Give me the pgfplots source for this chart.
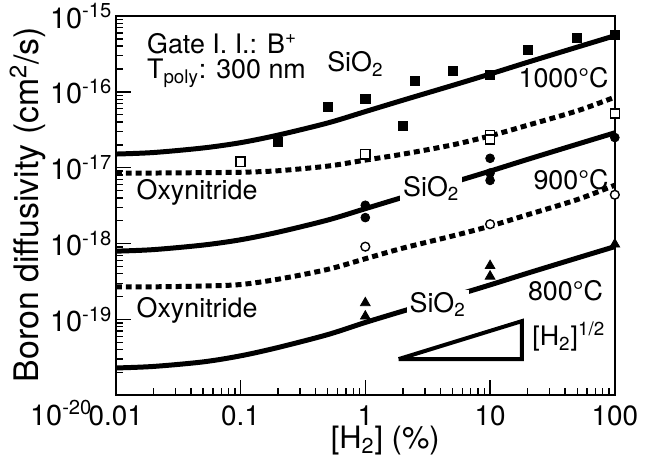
\documentclass[border=0pt]{standalone}
\usepackage{fontspec}
\setmainfont{TeX Gyre Heros}
\usepackage{pgfplots}
\pgfplotsset{compat=1.18}
\begin{document}
\fontsize{13.5}{16}\selectfont
\begin{tikzpicture}
\begin{axis}[name=ax,
  xmode=log, ymode=log, scale only axis, width=250bp, height=190bp,
  xmin=0.01, xmax=100, ymin=1e-20, ymax=1e-15,
  clip=false,
  axis line style={line width=1bp},
  tick pos=left, tick align=inside,
  major tick length=7.5bp, minor tick length=3.5bp,
  every tick/.style={line width=0.7bp, black},
  xtick={0.01,0.1,1,10,100}, xticklabels={0.01,0.1,1,10,100},
  ytick={1e-20,1e-19,1e-18,1e-17,1e-16,1e-15},
  yticklabels={,10\textsuperscript{-19},10\textsuperscript{-18},10\textsuperscript{-17},10\textsuperscript{-16},10\textsuperscript{-15}},
  xticklabel style={anchor=base, yshift=-15bp, font=\fontsize{14}{16}\selectfont},
  yticklabel style={inner sep=0pt, xshift=-1.5bp, font=\fontsize{14.5}{16}\selectfont},
  xlabel={[H\textsubscript{2}] (\%)},
  ylabel={Boron diffusivity (cm\textsuperscript{2}/s)},
  xlabel style={at={(axis description cs:0.54,0)}, anchor=base, yshift=-26.5bp, font=\fontsize{15.5}{17}\selectfont},
  ylabel style={at={(axis description cs:-0.176,0.503)}, anchor=center, font=\fontsize{17}{19}\selectfont},
]
% 1000 C SiO2 fit
\addplot[line width=2.5bp, smooth] coordinates {(0.01,1.514e-17) (0.02,1.585e-17) (0.05,1.820e-17) (0.1,2.138e-17) (0.2,2.692e-17) (0.5,3.890e-17) (1,5.495e-17) (2,7.762e-17) (5,1.216e-16) (10,1.718e-16) (20,2.455e-16) (50,3.890e-16) (100,5.495e-16)};
% 1000 C oxynitride fit
\addplot[line width=2.5bp, dash pattern=on 3bp off 2bp, smooth] coordinates {(0.01,8.51e-18) (0.02,8.51e-18) (0.05,8.61e-18) (0.1,8.71e-18) (0.2,9.12e-18) (0.5,1.05e-17) (1,1.26e-17) (2,1.51e-17) (5,2.00e-17) (10,2.63e-17) (20,3.63e-17) (50,5.62e-17) (100,8.51e-17)};
% 900 C SiO2 fit
\addplot[line width=2.5bp, smooth] coordinates {(0.01,7.94e-19) (0.02,8.32e-19) (0.05,9.55e-19) (0.1,1.122e-18) (0.2,1.413e-18) (0.5,2.042e-18) (1,2.884e-18) (2,4.074e-18) (5,6.383e-18) (10,9.016e-18) (20,1.288e-17) (50,2.042e-17) (100,2.884e-17)};
% 900 C oxynitride fit
\addplot[line width=2.5bp, dash pattern=on 3bp off 2bp, smooth] coordinates {(0.01,2.692e-19) (0.02,2.692e-19) (0.05,2.754e-19) (0.1,2.884e-19) (0.2,3.388e-19) (0.5,4.571e-19) (1,6.310e-19) (2,8.710e-19) (5,1.259e-18) (10,1.698e-18) (20,2.399e-18) (50,3.802e-18) (100,5.888e-18)};
% 800 C SiO2 fit
\addplot[line width=2.5bp, smooth] coordinates {(0.01,2.291e-20) (0.02,2.399e-20) (0.05,2.754e-20) (0.1,3.311e-20) (0.2,4.266e-20) (0.5,6.310e-20) (1,9.12e-20) (2,1.288e-19) (5,2.018e-19) (10,2.851e-19) (20,4.074e-19) (50,6.457e-19) (100,9.12e-19)};
% data
\addplot[only marks, mark=square*, mark size=2.3bp, black] coordinates {(0.2,2.2e-17) (0.5,6.3e-17) (1,8.0e-17) (2,3.6e-17) (2.5,1.4e-16) (5,1.9e-16) (10,1.67e-16) (20,3.6e-16) (50,5.2e-16) (100,5.6e-16)};
\addplot[only marks, mark=square*, mark size=2.3bp, mark options={fill=white, draw=black, line width=0.7bp}] coordinates {(0.1,1.2e-17) (1,1.5e-17) (10,2.7e-17) (10,2.35e-17) (100,5.2e-17)};
\addplot[only marks, mark=*, mark size=2.2bp, black] coordinates {(1,3.2e-18) (1,2.2e-18) (10,1.33e-17) (10,8.5e-18) (10,6.8e-18) (100,2.5e-17)};
\addplot[only marks, mark=*, mark size=2.2bp, mark options={fill=white, draw=black, line width=0.7bp}] coordinates {(1,9.1e-19) (10,1.8e-18) (100,4.4e-18)};
\addplot[only marks, mark=triangle*, mark size=2.8bp, black] coordinates {(1,1.65e-19) (1,1.1e-19) (10,5.1e-19) (10,3.7e-19) (100,9.8e-19)};
% slope triangle
\addplot[line width=2bp, line join=miter] coordinates {(1.85,3.0e-20) (18,3.0e-20) (18,9.5e-20) (1.85,3.0e-20)};
% annotations
\node[anchor=base west, inner sep=0pt] at (rel axis cs:0.062,0.90) {Gate I. I.: B\textsuperscript{+}};
\node[anchor=base west, inner sep=0pt] at (rel axis cs:0.062,0.834) {T\textsubscript{poly}: 300 nm};
\node[anchor=base west, inner sep=0pt] at (rel axis cs:0.423,0.853) {SiO\textsubscript{2}};
\node[anchor=base east, inner sep=0pt] at (rel axis cs:0.988,0.812) {1000\textdegree C};
\node[anchor=base west, inner sep=0pt] at (rel axis cs:0.041,0.516) {Oxynitride};
\node[anchor=base west, inner sep=1.5bp, fill=white] at (rel axis cs:0.569,0.524) {SiO\textsubscript{2}};
\node[anchor=base east, inner sep=0pt] at (rel axis cs:0.988,0.542) {900\textdegree C};
\node[anchor=base west, inner sep=0pt] at (rel axis cs:0.041,0.206) {Oxynitride};
\node[anchor=base west, inner sep=1.5bp, fill=white] at (rel axis cs:0.582,0.218) {SiO\textsubscript{2}};
\node[anchor=base east, inner sep=0pt] at (rel axis cs:0.977,0.249) {800\textdegree C};
\node[anchor=base west, inner sep=0pt] at (rel axis cs:0.834,0.13) {[H\textsubscript{2}]\textsuperscript{1/2}};
\node[anchor=base east, inner sep=0pt, font=\fontsize{14.5}{16}\selectfont] at (rel axis cs:-0.046,0) [yshift=-15bp] {10\textsuperscript{-20}};
\end{axis}
\path[use as bounding box] ([shift={(-58bp,-32.5bp)}]ax.south west) rectangle ([shift={(15.5bp,8bp)}]ax.north east);
\end{tikzpicture}
\end{document}
